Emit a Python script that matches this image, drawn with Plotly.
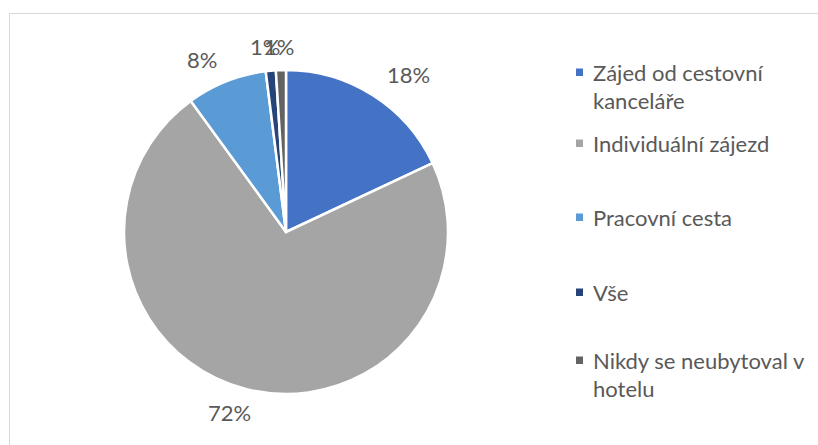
import math
import plotly.graph_objects as go

labels = ["Zájed od cestovní kanceláře", "Individuální zájezd", "Pracovní cesta", "Vše", "Nikdy se neubytoval v hotelu"]
legend_lines = [["Zájed od cestovní", "kanceláře"], ["Individuální zájezd"], ["Pracovní cesta"], ["Vše"], ["Nikdy se neubytoval v", "hotelu"]]
values = [18, 72, 8, 1, 1]
colors = ["#4472C4", "#A5A5A5", "#5B9BD5", "#264478", "#636363"]

W, H = 818, 445
FONT = "Lato"
cx, cy, r = 286, 232, 162  # pie centre/radius in px

fig = go.Figure(go.Pie(
    labels=labels, values=values, sort=False, direction="clockwise", rotation=0,
    marker=dict(colors=colors, line=dict(color="white", width=2.5)),
    textinfo="none", showlegend=False, hoverinfo="label+percent",
    domain=dict(x=[(cx - r) / W, (cx + r) / W], y=[(H - cy - r) / H, (H - cy + r) / H]),
))

# data labels placed outside along each slice's mid-angle (elliptical offset for text width)
total = sum(values)
cum = 0
for v in values:
    mid = (cum + v / 2) / total * 2 * math.pi
    cum += v
    px = cx + (r + 66) * math.sin(mid)
    py = cy - (r + 24) * math.cos(mid)
    fig.add_annotation(xref="paper", yref="paper", x=px / W, y=(H - py) / H,
                       xanchor="center", yanchor="middle", showarrow=False,
                       text=f"{round(v / total * 100)}%",
                       font=dict(size=22, color="#595959", family=FONT))

# manual legend
legend_y = [72, 143, 217, 292, 360]
line_h = 28
for lines, c, y in zip(legend_lines, colors, legend_y):
    fig.add_shape(type="rect", xref="paper", yref="paper",
                  x0=576 / W, x1=583 / W, y0=(H - y - 4) / H, y1=(H - y + 3.5) / H,
                  fillcolor=c, line=dict(width=0))
    for i, t in enumerate(lines):
        ly = y + i * line_h
        fig.add_annotation(xref="paper", yref="paper", x=591 / W, y=(H - ly) / H,
                           xanchor="left", yanchor="middle", text=t, showarrow=False, align="left",
                           font=dict(size=22, color="#595959", family=FONT))

fig.add_shape(type="rect", xref="paper", yref="paper", x0=9.5 / W, x1=1.2, y0=-0.2, y1=(H - 13.5) / H,
              line=dict(color="#D9D9D9", width=1), fillcolor="rgba(0,0,0,0)")

fig.update_layout(width=W, height=H, margin=dict(l=0, r=0, t=0, b=0),
                  paper_bgcolor="white", plot_bgcolor="white")
fig.write_html("out.html", config={"displayModeBar": False},
               post_script="document.body.style.margin='0';document.body.style.overflow='hidden';")
